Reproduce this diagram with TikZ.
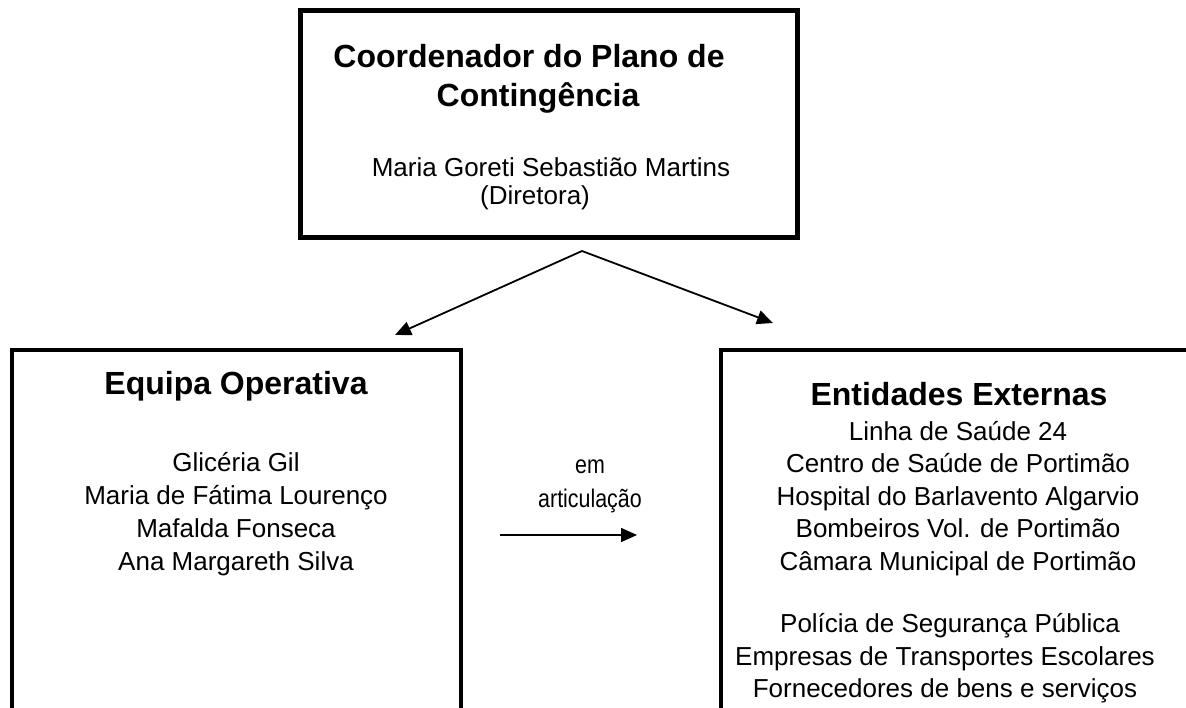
\documentclass[tikz,border=0pt]{standalone}
\usepackage{fontspec}
\setmainfont{Liberation Sans}
\usetikzlibrary{arrows.meta}
\tikzset{
  bigbox/.style={draw=black, line width=5pt, inner sep=0pt, fill=none},
  subbox/.style={draw=black, line width=4pt, inner sep=0pt, fill=none},
  head/.style={font=\fontsize{32}{38}\selectfont\bfseries, anchor=base, inner sep=0pt},
  txt/.style={font=\fontsize{26}{31}\selectfont, anchor=base, inner sep=0pt},
  narrow/.style={font=\fontsize{25.5}{30}\selectfont, anchor=base, inner sep=0pt},
  conn/.style={line width=1.8pt, -{Triangle[length=16pt, width=14pt]}},
}
\begin{document}
\begin{tikzpicture}[x=1pt, y=-1pt]
\useasboundingbox (0,0) rectangle (1186,708);
\clip (0,0) rectangle (1186,708);
\fill[white] (0,0) rectangle (1186,708);

% boxes
\node[bigbox, minimum width=497pt, minimum height=227pt] (coord) at (548.5,124.5) {};
\node[subbox, minimum width=449pt, minimum height=450pt] (equipa) at (236.5,575) {};
\node[subbox, minimum width=579pt, minimum height=450pt] (entid) at (1010.5,575) {};

% top box text
\node[head] (c1) at (529,68) {Coordenador do Plano de};
\node[head] (c2) at (538,107) {Contingência};
\node[txt] (c3) at (551,177) {Maria Goreti Sebastião Martins};
\node[txt] (c4) at (535,205) {(Diretora)};

% left box text
\node[head] (e0) at (236,395) {Equipa Operativa};
\node[txt] (e1) at (236,471) {Glicéria Gil};
\node[txt] (e2) at (236,504) {Maria de Fátima Lourenço};
\node[txt] (e3) at (236,537) {Mafalda Fonseca};
\node[txt] (e4) at (236,570) {Ana Margareth Silva};

% right box text
\node[head] (x0) at (959,406) {Entidades Externas};
\node[txt] (x1) at (958,440) {Linha de Saúde 24};
\node[txt] (x2) at (958,472.5) {Centro de Saúde de Portimão};
\node[txt] (x3) at (958,505) {Hospital do Barlavento Algarvio};
\node[txt] (x4) at (958,537.5) {Bombeiros Vol. de Portimão};
\node[txt] (x5) at (958,570) {Câmara Municipal de Portimão};
\node[txt] (x6) at (950,632) {Polícia de Segurança Pública};
\node[txt] (x7) at (945,665) {Empresas de Transportes Escolares};
\node[txt] (x8) at (945,697) {Fornecedores de bens e serviços};

% middle label
\node[narrow] (m1) at (590,473) {\scalebox{0.84}[1]{em}};
\node[narrow] (m2) at (590,507) {\scalebox{0.84}[1]{articulação}};

% connectors
\coordinate (apex) at (582,251);
\coordinate (ltip) at (395,335);
\coordinate (rtip) at (773,323);
\coordinate (mstart) at (500,535);
\coordinate (mtip) at (637,535);
\draw[conn] (apex) -- (ltip);
\draw[conn] (apex) -- (rtip);
\draw[conn, line width=1.5pt] (mstart) -- (mtip);
\end{tikzpicture}
\end{document}
